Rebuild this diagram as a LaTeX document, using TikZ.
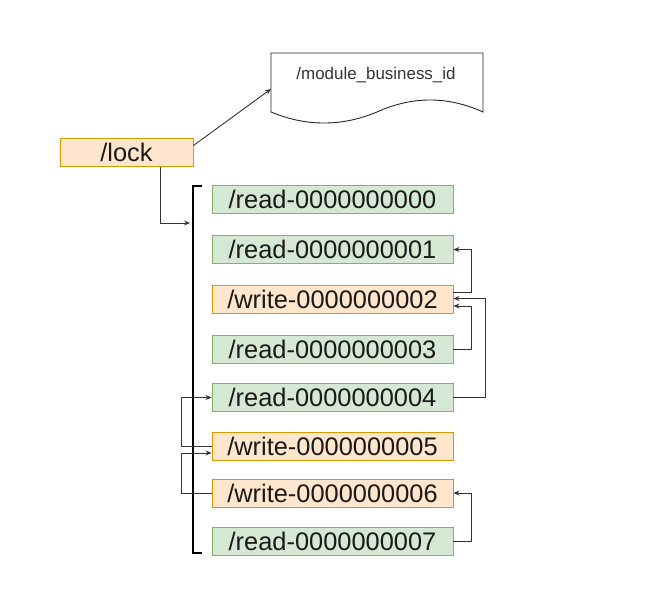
\documentclass[tikz,border=0pt]{standalone}
\usepackage{fontspec}
\setmainfont{Liberation Sans}
\usetikzlibrary{arrows.meta}
\definecolor{gfill}{HTML}{D5E8D4}
\definecolor{gline}{HTML}{82B366}
\definecolor{ofill}{HTML}{FFE6CC}
\definecolor{oline}{HTML}{D79B00}
\definecolor{txt}{HTML}{1A1A1A}
\tikzset{
  box/.style={inner sep=0pt, minimum width=241bp, minimum height=28bp, line width=0.9bp,
    font=\fontsize{25.5}{29}\selectfont, text=txt},
  readbox/.style={box, fill=gfill, draw=gline},
  writebox/.style={box, fill=ofill, draw=oline},
  conn/.style={draw=black!80, line width=0.9bp, -{Stealth[length=6bp,width=5bp]}},
  plain/.style={draw=black!80, line width=0.9bp},
}
\begin{document}
\begin{tikzpicture}[x=1bp,y=-1bp]
\useasboundingbox (0,0) rectangle (659,590);
% document shape
\draw[line width=0.9bp, draw=black!85] (271,53) -- (483,53) -- (483,112)
  .. controls (447.7,96) and (412.3,96) .. (377,112)
  .. controls (341.7,126.7) and (306.3,126.7) .. (271,112) -- cycle;
\node[font=\fontsize{17}{20}\selectfont, text=black!80] (doc) at (376,75) {/module\_business\_id};
\coordinate (docl) at (271,89);
% lock
\node[writebox, minimum width=133bp] (lock) at (126.5,152.5) {/lock};
% bracket
\coordinate (btop) at (202,186);
\coordinate (bbot) at (202,553);
\draw[line width=1.8bp] (btop) -- (193,186) -- (193,553) -- (bbot);
\coordinate (brk) at (190,223);
% entries
\node[readbox]  (r0) at (332.5,199)   {/read-0000000000};
\node[readbox]  (r1) at (332.5,249.5) {/read-0000000001};
\node[writebox] (w2) at (332.5,299)   {/write-0000000002};
\node[readbox]  (r3) at (332.5,349)   {/read-0000000003};
\node[readbox]  (r4) at (332.5,397.5) {/read-0000000004};
\node[writebox] (w5) at (332.5,446)   {/write-0000000005};
\node[writebox] (w6) at (332.5,493)   {/write-0000000006};
\node[readbox]  (r7) at (332.5,541)   {/read-0000000007};
% connectors
\draw[conn] ([yshift=7bp]lock.east) -- (docl);
\draw[conn] ([xshift=33.5bp]lock.south) |- (brk);
\draw[conn] ([yshift=7bp]w2.east) -- ++(18,0) |- (r1.east);
\draw[conn] (r3.east) -- ++(18,0) |- ([yshift=-7bp]w2.east);
\draw[conn] (r4.east) -- ++(32,0) |- ([yshift=0.5bp]w2.east);
\draw[conn] (w5.west) -- ++(-30,0) |- (r4.west);
\draw[conn] (w6.west) -- ++(-30,0) |- ([yshift=-7bp]w5.west);
\draw[conn] (r7.east) -- ++(18,0) |- (w6.east);
\end{tikzpicture}
\end{document}
